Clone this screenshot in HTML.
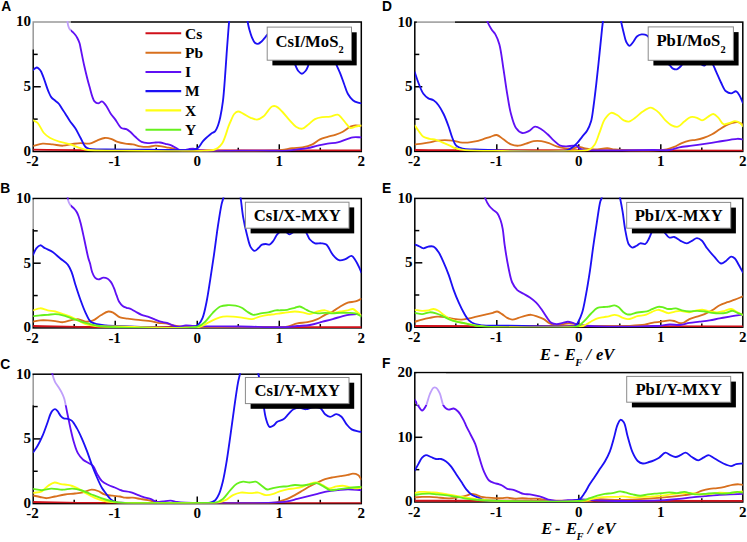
<!DOCTYPE html>
<html><head><meta charset="utf-8"><style>html,body{margin:0;padding:0;background:#fff;}svg{display:block;}.s{font-family:"Liberation Serif",serif;font-weight:bold;}.l{font-family:"Liberation Sans",sans-serif;font-weight:bold;}</style></head><body>
<svg width="747" height="542" viewBox="0 0 747 542">
<rect width="747" height="542" fill="#fff"/>
<defs>
<clipPath id="cA"><rect x="33.2" y="21" width="328.1" height="130.5"/></clipPath>
<clipPath id="cB"><rect x="33.2" y="197.5" width="328.1" height="130.4"/></clipPath>
<clipPath id="cC"><rect x="33.2" y="373.2" width="328.1" height="130.4"/></clipPath>
<clipPath id="cD"><rect x="414.8" y="21.1" width="328" height="130.3"/></clipPath>
<clipPath id="cE"><rect x="414.8" y="197.4" width="328" height="129.8"/></clipPath>
<clipPath id="cF"><rect x="414.8" y="371.6" width="328" height="130.4"/></clipPath>
</defs>
<text class="l" x="1.3" y="10.9" font-size="13.8">A</text>
<text class="l" x="0.2" y="193.4" font-size="13.8">B</text>
<text class="l" x="0.2" y="368.9" font-size="13.8">C</text>
<text class="l" x="382" y="10.9" font-size="13.8">D</text>
<text class="l" x="382" y="192.9" font-size="13.8">E</text>
<text class="l" x="382" y="368.1" font-size="13.8">F</text>
<rect x="33.2" y="22" width="328.1" height="129.5" fill="none" stroke="#000" stroke-width="1.5"/>
<line x1="33.2" y1="119.12" x2="37.7" y2="119.12" stroke="#000" stroke-width="1.5"/>
<line x1="33.2" y1="86.75" x2="40.7" y2="86.75" stroke="#000" stroke-width="1.5"/>
<line x1="33.2" y1="54.38" x2="37.7" y2="54.38" stroke="#000" stroke-width="1.5"/>
<line x1="74.21" y1="151.5" x2="74.21" y2="147.7" stroke="#000" stroke-width="1.5"/>
<line x1="115.23" y1="151.5" x2="115.23" y2="144.3" stroke="#000" stroke-width="1.5"/>
<line x1="156.24" y1="151.5" x2="156.24" y2="147.7" stroke="#000" stroke-width="1.5"/>
<line x1="197.25" y1="151.5" x2="197.25" y2="144.3" stroke="#000" stroke-width="1.5"/>
<line x1="238.26" y1="151.5" x2="238.26" y2="147.7" stroke="#000" stroke-width="1.5"/>
<line x1="279.28" y1="151.5" x2="279.28" y2="144.3" stroke="#000" stroke-width="1.5"/>
<line x1="320.29" y1="151.5" x2="320.29" y2="147.7" stroke="#000" stroke-width="1.5"/>
<text class="s" x="30.9" y="155.9" font-size="15" text-anchor="end">0</text>
<text class="s" x="30.9" y="91.15" font-size="15" text-anchor="end">5</text>
<text class="s" x="30.9" y="26.4" font-size="15" text-anchor="end">10</text>
<text class="s" x="32.6" y="166.3" font-size="15" text-anchor="middle">-2</text>
<text class="s" x="114.63" y="166.3" font-size="15" text-anchor="middle">-1</text>
<text class="s" x="197.25" y="166.3" font-size="15" text-anchor="middle">0</text>
<text class="s" x="279.28" y="166.3" font-size="15" text-anchor="middle">1</text>
<text class="s" x="361.3" y="166.3" font-size="15" text-anchor="middle">2</text>
<g clip-path="url(#cA)" fill="none" stroke-width="1.85" stroke-linejoin="round" stroke-linecap="round">
<path d="M33.2 149.6C48.8 149.8 57.84 150.05 80 150.2C134.33 150.57 267.53 150.33 361.3 150.4" stroke="#d0101a"/>
<path d="M33.2 145.9C36.33 145.13 39.39 143.86 42.6 143.6C45.89 143.34 49.33 144.05 52.7 144.4C56.1 144.75 59.51 145.78 62.9 145.7C66.28 145.62 69.86 144.34 73 143.9C75.71 143.52 77.97 143.16 80.6 143.1C83.42 143.03 86.62 144.05 89.4 143.6C92.08 143.17 94.46 141.54 97 140.6C99.52 139.67 102.16 138.25 104.6 138C106.77 137.78 108.81 138.2 110.9 138.8C113.15 139.45 115.25 141.1 117.6 141.9C120.01 142.72 122.65 143.18 125.2 143.6C127.72 144.01 130.29 143.94 132.8 144.4C135.33 144.87 137.77 145.98 140.3 146.4C142.81 146.81 145.37 147.01 147.9 146.9C150.44 146.78 153.29 145.75 155.5 145.7C157.19 145.66 158.37 145.97 160 146.2C161.95 146.48 164.27 146.93 166.4 147.3C168.53 147.67 170.77 147.93 172.8 148.4C174.69 148.84 176.21 149.63 178.2 150C180.54 150.43 182 150.44 186 150.6C199.27 151.12 257.37 151.2 272 150.7C277.02 150.53 278.74 150.41 282.1 150C285.48 149.58 288.82 148.63 292.2 148.2C295.56 147.77 298.97 148.02 302.3 147.4C305.7 146.77 309.37 145.83 312.4 144.4C315.22 143.07 317.38 140.58 320 139.3C322.45 138.1 325.06 137.55 327.6 136.8C330.12 136.05 332.69 135.62 335.2 134.8C337.76 133.96 340.33 133.09 342.8 131.8C345.41 130.43 348.05 127.76 350.4 126.7C352.17 125.9 353.65 125.53 355.4 125.4C357.27 125.26 359.33 125.8 361.3 126" stroke="#d8701e"/>
<path d="M66.8 14C67.07 16.83 67.28 20.29 67.6 22.5C67.81 23.93 67.95 24.9 68.3 26C68.63 27.06 68.95 28.06 69.6 29C70.35 30.08 71.72 30.98 72.7 32C73.65 32.98 74.62 33.97 75.4 35C76.14 35.97 76.69 36.85 77.3 38C78.06 39.43 78.92 41.23 79.5 43C80.11 44.88 80.27 46.49 80.8 49C81.69 53.22 82.95 60.1 84.3 66C85.78 72.48 87.57 80.07 89.4 86.3C91 91.74 92.34 98.83 94.5 101.4C95.61 102.72 96.96 103.39 98.2 103.4C99.46 103.41 100.8 101.22 102 101.4C103.35 101.6 104.55 103.57 105.8 105.2C107.52 107.44 109.2 111.52 110.9 114C112.27 115.99 113.51 117.14 115 119.1C116.93 121.63 119.09 126.45 121.4 128C122.98 129.06 124.9 128.53 126.4 129.2C127.82 129.83 128.89 130.72 130.2 131.8C131.83 133.14 133.47 135.17 135.3 136.8C137.25 138.54 139.36 140.86 141.6 141.9C143.59 142.82 145.79 142.98 147.9 143.1C149.99 143.21 152.14 142.7 154.2 142.6C156.17 142.5 158.11 142.29 160 142.5C161.85 142.7 163.61 143.35 165.4 143.8C167.18 144.25 169.05 144.59 170.7 145.2C172.24 145.77 173.58 146.54 175 147.3C176.45 148.07 177.81 149.32 179.3 149.8C180.69 150.24 182.1 150.28 183.6 150.2C185.28 150.11 187.22 149.35 188.9 149.1C190.4 148.88 191.82 148.64 193.2 148.7C194.48 148.76 195.67 149.11 196.9 149.4C198.17 149.7 199.2 150.23 200.7 150.5C202.76 150.88 204.83 150.99 208.2 151.1C215.13 151.32 229.38 150.67 240 150.6C250.65 150.53 263.3 150.69 272 150.7C278 150.71 282.66 150.99 287.2 150.7C290.92 150.46 293.93 149.82 297.3 149.4C300.67 148.98 304.05 148.81 307.4 148.2C310.79 147.58 314.13 146.47 317.5 145.7C320.86 144.94 324.22 144.15 327.6 143.6C330.95 143.05 334.38 143.18 337.7 142.4C341.11 141.6 344.99 139.71 347.8 138.8C349.78 138.16 350.97 137.58 352.9 137.3C355.33 136.95 358.5 137.3 361.3 137.3" stroke="#6010f4"/>
<path d="M33.2 70C33.8 69.47 34.35 68.82 35 68.4C35.62 68 36.28 67.4 37 67.5C38 67.64 39.36 69.06 40.3 70.3C41.48 71.85 42.22 74.23 43.1 76.4C44.07 78.8 44.89 81.53 45.8 84.1C46.72 86.69 47.59 89.56 48.6 91.9C49.47 93.92 50.21 95.88 51.4 97.4C52.49 98.79 54.05 99.74 55.3 100.8C56.44 101.76 57.58 102.37 58.6 103.5C59.81 104.84 60.8 106.83 61.9 108.5C63 110.17 64.03 111.67 65.2 113.5C66.6 115.67 68.05 118.29 69.7 120.7C71.46 123.28 73.72 125.7 75.5 128.5C77.37 131.45 78.9 134.88 80.6 138C82.26 141.05 83.75 145.2 85.6 147C86.79 148.17 87.62 148.54 89.4 149C92.89 149.91 99.8 149.3 105.8 149.4C113.08 149.52 121.5 149.54 130 149.6C139.46 149.67 150.09 149.7 160 149.8C169.72 149.9 182.74 150.54 188.9 150.2C191.81 150.04 193.59 150.03 195.3 149.4C196.62 148.92 197.45 148.3 198.5 147.3C199.96 145.91 201.29 143.16 202.8 141.4C204.17 139.79 205.64 138.45 207.1 137.1C208.51 135.79 210.02 134.32 211.4 133.4C212.5 132.67 213.72 132.58 214.6 131.8C215.51 131 216.09 129.78 216.7 128.6C217.37 127.3 217.86 125.94 218.4 124.3C219.08 122.2 219.68 119.91 220.3 117C221.2 112.79 222.18 107.02 222.9 101.4C223.74 94.84 224.21 87.48 224.8 80C225.45 71.78 225.99 62.58 226.6 54.1C227.19 45.92 227.85 36.65 228.4 30C228.79 25.31 228.99 22.4 229.5 18C230.12 12.6 230.67 6.11 232 0C233.43 -6.55 236 -20 238 -20C240 -20 242.4 -6.89 244 0C245.66 7.16 246.61 16.7 247.7 22.2C248.35 25.48 248.79 27.46 249.5 30C250.2 32.49 250.93 35.09 251.9 37.3C252.77 39.28 253.66 41.62 254.9 42.7C255.81 43.49 256.96 44.01 258 43.9C259.19 43.77 260.47 42.51 261.6 41.5C262.88 40.36 264.08 38.62 265.2 37.3C266.19 36.14 266.69 35.03 268 34C269.89 32.52 273.43 29.51 276 30C279.15 30.6 282.48 35.9 285 40C288.02 44.91 290.03 53.42 292 58C293.25 60.9 294.21 62.76 295.3 65C296.31 67.08 297.04 69.5 298.3 71C299.33 72.23 300.7 73.7 301.9 73.7C303.1 73.7 304.51 72.17 305.5 71C306.59 69.72 307.13 68.32 308 66.2C309.54 62.44 310.31 54.19 313 50C315.27 46.47 319 42 322 42C325 42 328.65 46.57 331 50C333.69 53.93 334.78 60.52 336.5 64.8C337.84 68.13 339.08 70.55 340.3 73.6C341.59 76.83 342.75 80.34 344 83.7C345.25 87.07 346.17 90.92 347.8 93.8C349.22 96.31 351.01 98.68 352.9 100.2C354.47 101.46 356.45 102.17 358 102.7C359.19 103.11 360.2 103.17 361.3 103.4" stroke="#1c10f4"/>
<path d="M33.2 120.4C34.67 121.23 36.17 121.53 37.6 122.9C39.79 125 41.55 130.37 43.9 133C45.83 135.16 47.73 136.59 50.2 138C53.07 139.64 56.9 140.83 60.3 141.9C63.63 142.95 67.05 143.37 70.4 144.4C73.82 145.46 77.43 147.23 80.6 148.2C83.27 149.01 84.7 149.57 88.1 150C95.01 150.88 106.94 150.44 120 150.6C140.77 150.85 185.38 151.56 200.7 151C206.81 150.78 210.42 150.81 213.5 150C215.37 149.51 216.45 148.96 217.8 148C219.34 146.91 220.9 145.39 222.1 143.6C223.48 141.53 224.29 138.78 225.3 136.1C226.43 133.1 227.42 129.28 228.5 126.4C229.39 124.03 230.24 122.08 231.2 120C232.14 117.95 232.9 115.46 234.2 114C235.27 112.8 236.6 111.63 238 111.5C239.54 111.35 241.26 112.72 243.1 113.6C245.41 114.71 248.23 116.78 250.7 117.8C252.85 118.69 254.93 119.77 257 119.6C259.13 119.42 261.45 118.06 263.3 116.6C265.29 115.03 266.81 112.11 268.4 110.3C269.67 108.85 270.63 107.13 272 106.5C273.2 105.95 274.62 105.83 276 106.3C277.95 106.96 280.04 109.44 282.1 111.5C284.59 113.99 287.23 117.73 289.7 120.4C291.85 122.73 293.72 125.31 296 126.7C297.97 127.9 300.27 129.01 302.3 128.7C304.51 128.36 306.6 125.78 308.7 124.2C310.84 122.59 312.66 120.28 315 119.1C317.3 117.93 320.06 117.52 322.6 117.1C325.09 116.69 327.61 117.01 330.1 116.6C332.64 116.18 335.69 114.15 337.7 114.6C339.3 114.96 340.21 116.47 341.5 117.8C343.16 119.5 344.98 122.38 346.6 124.2C347.92 125.67 348.91 127.6 350.4 128C351.86 128.4 353.66 127.12 355.4 126.7C357.28 126.25 359.33 125.83 361.3 125.4" stroke="#ffff14"/>
</g>
<rect x="31.8" y="20.5" width="39.1" height="29" fill="#fff" fill-opacity="0.6"/>
<rect x="272.4" y="32.3" width="84.3" height="33.1" fill="#000"/>
<rect x="267.2" y="27.1" width="84.3" height="33.1" fill="#fff" stroke="#8a8a8a" stroke-width="1"/>
<text class="s" x="309.55" y="46.6" font-size="16.7" text-anchor="middle">CsI/MoS<tspan font-size="10.35" dy="6.2">2</tspan></text>
<rect x="33.2" y="198.5" width="328.1" height="129.4" fill="none" stroke="#000" stroke-width="1.5"/>
<line x1="33.2" y1="295.55" x2="37.7" y2="295.55" stroke="#000" stroke-width="1.5"/>
<line x1="33.2" y1="263.2" x2="40.7" y2="263.2" stroke="#000" stroke-width="1.5"/>
<line x1="33.2" y1="230.85" x2="37.7" y2="230.85" stroke="#000" stroke-width="1.5"/>
<line x1="74.21" y1="327.9" x2="74.21" y2="324.1" stroke="#000" stroke-width="1.5"/>
<line x1="115.23" y1="327.9" x2="115.23" y2="320.7" stroke="#000" stroke-width="1.5"/>
<line x1="156.24" y1="327.9" x2="156.24" y2="324.1" stroke="#000" stroke-width="1.5"/>
<line x1="197.25" y1="327.9" x2="197.25" y2="320.7" stroke="#000" stroke-width="1.5"/>
<line x1="238.26" y1="327.9" x2="238.26" y2="324.1" stroke="#000" stroke-width="1.5"/>
<line x1="279.28" y1="327.9" x2="279.28" y2="320.7" stroke="#000" stroke-width="1.5"/>
<line x1="320.29" y1="327.9" x2="320.29" y2="324.1" stroke="#000" stroke-width="1.5"/>
<text class="s" x="30.9" y="332.3" font-size="15" text-anchor="end">0</text>
<text class="s" x="30.9" y="267.6" font-size="15" text-anchor="end">5</text>
<text class="s" x="30.9" y="202.9" font-size="15" text-anchor="end">10</text>
<text class="s" x="32.6" y="342.7" font-size="15" text-anchor="middle">-2</text>
<text class="s" x="114.63" y="342.7" font-size="15" text-anchor="middle">-1</text>
<text class="s" x="197.25" y="342.7" font-size="15" text-anchor="middle">0</text>
<text class="s" x="279.28" y="342.7" font-size="15" text-anchor="middle">1</text>
<text class="s" x="361.3" y="342.7" font-size="15" text-anchor="middle">2</text>
<g clip-path="url(#cB)" fill="none" stroke-width="1.85" stroke-linejoin="round" stroke-linecap="round">
<path d="M33.2 326C55.47 326.33 70.42 326.77 100 327C158.5 327.46 274.2 327.13 361.3 327.2" stroke="#d0101a"/>
<path d="M33.2 321.7C35.5 321.27 37.73 320.62 40.1 320.4C42.56 320.17 45.17 320.28 47.7 320.4C50.24 320.52 52.77 320.8 55.3 321.1C57.84 321.4 60.39 322.32 62.9 322.2C65.42 322.08 67.88 320.92 70.4 320.4C72.92 319.88 75.49 318.9 78 319.1C80.56 319.31 83.04 321.49 85.6 321.7C88.11 321.9 90.77 321.37 93.2 320.4C95.85 319.34 98.22 316.8 100.8 315.3C103.29 313.85 106.09 311.74 108.4 311.5C110.2 311.31 111.68 312.02 113.4 312.8C115.55 313.78 117.68 316.44 120.1 317.4C122.46 318.34 125.16 318.23 127.7 318.6C130.23 318.97 132.76 319.3 135.3 319.6C137.83 319.9 140.37 320.15 142.9 320.4C145.41 320.65 147.91 320.69 150.4 321.1C152.94 321.52 155.45 322.52 158 322.9C160.52 323.28 163.09 322.99 165.6 323.4C168.15 323.82 170.47 324.87 173.2 325.4C176.31 326.01 178.2 326.36 183.3 326.7C199.03 327.73 266.18 327.27 280 327C283.77 326.93 284.63 327.16 287.2 326.7C290.32 326.14 293.9 324.15 297.3 323.4C300.63 322.67 304.06 322.9 307.4 322.2C310.8 321.48 314.44 320.42 317.5 319.1C320.28 317.9 322.53 316.08 325.1 314.8C327.6 313.55 330.22 312.84 332.7 311.5C335.3 310.1 337.73 307.99 340.3 306.5C342.77 305.07 345.23 303.55 347.8 302.7C350.27 301.89 353.06 302.08 355.4 301.4C357.53 300.78 359.33 299.73 361.3 298.9" stroke="#d8701e"/>
<path d="M67.2 191C67.4 193.5 67.46 196.48 67.8 198.5C68.03 199.9 68.27 200.9 68.7 202C69.11 203.06 69.66 204.14 70.3 205C70.88 205.78 71.61 206.34 72.3 207C73.01 207.68 73.8 208.23 74.5 209C75.28 209.87 76.05 210.89 76.7 212C77.4 213.2 77.93 214.45 78.5 216C79.24 218.01 79.85 220.23 80.6 223.1C81.73 227.42 83.06 233.87 84.3 239.5C85.62 245.48 87.15 253.72 88.3 258C88.92 260.32 89.43 261.29 90 263.3C90.73 265.87 91.24 269.64 92.2 272.2C92.98 274.3 93.79 276.49 95 277.7C95.94 278.64 97.06 279.31 98.3 279.4C99.77 279.51 101.68 277.77 103.3 277.7C104.8 277.64 106.42 278.08 107.7 278.8C109 279.53 110.04 280.76 111 282.1C112.12 283.65 112.92 285.66 113.8 287.7C114.81 290.04 115.65 292.93 116.6 295.4C117.49 297.72 118.16 300.24 119.3 302.1C120.26 303.67 121.42 305.03 122.7 306C123.85 306.87 125.24 307.34 126.5 307.8C127.67 308.22 128.74 308.21 130 308.7C131.62 309.33 133.46 310.53 135.3 311.5C137.31 312.56 139.46 313.94 141.6 314.8C143.66 315.62 145.82 315.89 147.9 316.6C150.02 317.32 152.09 318.25 154.2 319.1C156.33 319.95 158.44 321.06 160.6 321.7C162.68 322.31 164.83 322.3 166.9 322.9C169.03 323.52 171.19 324.75 173.2 325.4C174.97 325.97 176.43 326.63 178.3 326.7C180.55 326.79 183.28 325.52 185.8 325.4C188.32 325.28 190.95 325.85 193.4 326C195.68 326.14 196.87 326.22 200 326.3C207.7 326.49 226.3 326.36 240 326.5C254.46 326.65 274.26 327.61 284.6 327.2C290.13 326.98 293.07 326.37 297.3 326C301.51 325.63 305.72 325.7 309.9 325C314.16 324.28 318.61 322.73 322.6 321.7C326.16 320.78 329.34 320.03 332.7 319.1C336.08 318.16 339.66 316.88 342.8 316.1C345.5 315.43 347.86 314.93 350.4 314.6C352.92 314.27 356 313.96 358 314.1C359.33 314.2 360.2 314.57 361.3 314.8" stroke="#6010f4"/>
<path d="M33.2 254.7C34.23 252.57 34.99 249.93 36.3 248.3C37.38 246.96 38.7 245.4 40.1 245.3C41.64 245.19 43.32 247.27 45.2 248.3C47.44 249.53 50.28 250.5 52.7 252.1C55.33 253.84 57.76 256.38 60.3 258.5C62.83 260.61 65.97 262.37 67.9 264.8C69.69 267.05 70.54 269.49 71.7 272.4C73.14 276.02 74.1 280.61 75.5 285C77.04 289.84 78.84 295.39 80.6 300.2C82.22 304.62 83.78 309.02 85.6 312.8C87.18 316.09 88.51 319.8 90.7 321.7C92.48 323.24 94.68 323.59 97 324.2C99.65 324.9 102.51 325.11 105.8 325.4C109.96 325.77 113.4 325.83 120 326C135.17 326.39 186.13 329.4 195.1 326.7C197.29 326.04 197.67 325.38 198.8 324.2C200.24 322.68 201.5 320.56 202.6 317.9C204.21 314.02 205.23 308.3 206.4 302.7C207.82 295.89 208.96 287.7 210.2 279.9C211.5 271.72 212.76 263.31 214 254.7C215.3 245.67 216.47 235.7 217.8 226.9C219.01 218.91 220.42 209.31 221.6 204.1C222.23 201.32 222.79 200.28 223.4 197.8C224.26 194.3 224.49 188.89 226 185C227.43 181.33 230 175 232 175C234 175 236.57 181.33 238 185C239.51 188.89 239.81 193.1 240.6 197.8C241.55 203.5 242.03 210.61 243.1 216.8C244.14 222.8 245.52 229.04 246.9 234.4C248.08 239 248.99 244.24 250.7 247.1C251.79 248.92 253.18 250.78 254.5 250.9C255.72 251.01 257.09 249.31 258.3 248.3C259.59 247.23 260.64 245.29 262 244.6C263.17 244 264.53 244 265.8 244C267.07 244 268.42 244.98 269.6 244.6C270.99 244.15 272.22 242.32 273.4 240.8C274.79 239.01 275.65 236.13 277.2 234.4C278.6 232.83 280.5 230.98 282.1 230.7C283.39 230.48 284.67 231.32 285.9 231.9C287.21 232.52 288.43 234.4 289.7 234.4C290.97 234.4 292.03 232.67 293.5 231.9C295.3 230.97 297.79 229.53 299.8 229.4C301.57 229.29 303.41 229.56 304.9 230.7C306.97 232.28 307.97 237.31 309.9 239.5C311.43 241.23 313.09 242.67 315 243.3C316.9 243.93 319.34 243.05 321.3 243.3C323.08 243.53 324.74 243.46 326.3 244.6C328.68 246.33 330.36 251.97 332.7 254.7C334.66 256.98 336.74 259.55 339 260.2C340.98 260.77 343.25 259.88 345.3 259.2C347.46 258.48 349.86 255.58 351.6 255.9C353.16 256.19 354.22 258.51 355.4 260.2C356.79 262.2 358.16 265.1 359.2 267.3C360.06 269.12 360.6 270.7 361.3 272.4" stroke="#1c10f4"/>
<path d="M33.2 310.3C35.5 309.63 37.74 308.33 40.1 308.3C42.57 308.27 45.15 309.77 47.7 310.3C50.22 310.83 52.79 310.88 55.3 311.5C57.86 312.14 60.37 313.25 62.9 314.1C65.41 314.95 67.93 315.58 70.4 316.6C72.96 317.66 75.47 319.13 78 320.4C80.53 321.67 82.81 323.28 85.6 324.2C88.66 325.21 91.59 325.59 95.7 326C102.03 326.63 109.55 326.38 120 326.5C138.97 326.72 187.67 329.62 200.1 326.7C204.15 325.75 205.17 324.17 207.7 322.9C210.23 321.63 212.73 320.16 215.3 319.1C217.8 318.07 220.15 317.04 222.9 316.6C225.99 316.1 229.64 316.38 233 316.6C236.37 316.82 239.85 317.47 243.1 317.9C246.14 318.3 249.1 319.36 251.9 319.1C254.56 318.86 256.84 317.3 259.5 316.6C262.33 315.85 265.77 315.18 268.4 314.8C270.47 314.5 272.14 314.52 274 314.3C275.87 314.08 277.59 313.8 279.6 313.5C281.94 313.15 284.66 312.63 287.2 312.3C289.73 311.97 292.28 311.5 294.8 311.5C297.31 311.5 299.81 311.87 302.3 312.3C304.84 312.73 307.38 314.22 309.9 314.1C312.45 313.98 314.94 312.14 317.5 311.5C320.01 310.88 322.59 310.1 325.1 310.3C327.66 310.51 330.14 312.61 332.7 312.8C335.21 312.99 337.77 311.92 340.3 311.5C342.81 311.09 345.55 310.77 347.8 310.3C349.67 309.91 351.27 308.68 352.9 309C354.69 309.35 356.49 311.66 358 312.8C359.22 313.72 360.2 314.47 361.3 315.3" stroke="#ffff14"/>
<path d="M33.2 316.1C35.5 315.83 37.74 315.51 40.1 315.3C42.57 315.08 45.17 315 47.7 314.8C50.23 314.6 52.77 314.02 55.3 314.1C57.84 314.18 60.4 314.68 62.9 315.3C65.44 315.93 67.89 317.05 70.4 317.9C72.92 318.75 75.47 319.57 78 320.4C80.53 321.23 82.87 322.11 85.6 322.9C88.71 323.8 92.32 324.77 95.7 325.4C99.05 326.03 100.73 326.37 105.8 326.7C121.03 327.68 184.15 330.73 197.6 326.7C201.83 325.43 202.81 323.81 205.2 321.7C207.91 319.31 210.16 315.42 212.8 312.8C215.21 310.41 217.61 307.75 220.3 306.5C222.69 305.39 225.36 305.33 227.9 305.2C230.43 305.07 233.11 305.23 235.5 305.7C237.73 306.14 239.88 306.81 241.8 307.8C243.67 308.76 245.07 310.36 246.9 311.5C248.85 312.71 250.94 314.47 253.2 314.8C255.56 315.14 258.26 313.72 260.8 313.3C263.33 312.88 265.89 312.8 268.4 312.3C270.92 311.8 273.82 310.57 275.9 310.3C277.33 310.11 278.15 310.35 279.6 310.3C281.68 310.23 284.69 310.21 287.2 309.8C289.75 309.38 292.53 308.39 294.8 307.8C296.64 307.32 298.16 306.33 299.8 306.5C301.52 306.67 303.21 308.16 304.9 309C306.58 309.83 308.01 310.82 309.9 311.5C312.13 312.31 314.95 313.09 317.5 313.3C320.02 313.51 322.57 312.8 325.1 312.8C327.63 312.8 330.17 313.3 332.7 313.3C335.23 313.3 337.77 312.88 340.3 312.8C342.81 312.72 345.29 312.72 347.8 312.8C350.33 312.88 353.09 312.63 355.4 313.3C357.57 313.93 359.33 315.43 361.3 316.5" stroke="#66f01c"/>
</g>
<rect x="31.8" y="199.4" width="39.1" height="29.6" fill="#fff" fill-opacity="0.6"/>
<rect x="250.6" y="207.4" width="103.6" height="26" fill="#000"/>
<rect x="245.4" y="202.2" width="103.6" height="26" fill="#fff" stroke="#8a8a8a" stroke-width="1"/>
<text class="s" x="297.2" y="220.7" font-size="16.7" text-anchor="middle">CsI/X-MXY</text>
<rect x="33.2" y="374.2" width="328.1" height="129.4" fill="none" stroke="#000" stroke-width="1.5"/>
<line x1="33.2" y1="471.25" x2="37.7" y2="471.25" stroke="#000" stroke-width="1.5"/>
<line x1="33.2" y1="438.9" x2="40.7" y2="438.9" stroke="#000" stroke-width="1.5"/>
<line x1="33.2" y1="406.55" x2="37.7" y2="406.55" stroke="#000" stroke-width="1.5"/>
<line x1="74.21" y1="503.6" x2="74.21" y2="499.8" stroke="#000" stroke-width="1.5"/>
<line x1="115.23" y1="503.6" x2="115.23" y2="496.4" stroke="#000" stroke-width="1.5"/>
<line x1="156.24" y1="503.6" x2="156.24" y2="499.8" stroke="#000" stroke-width="1.5"/>
<line x1="197.25" y1="503.6" x2="197.25" y2="496.4" stroke="#000" stroke-width="1.5"/>
<line x1="238.26" y1="503.6" x2="238.26" y2="499.8" stroke="#000" stroke-width="1.5"/>
<line x1="279.28" y1="503.6" x2="279.28" y2="496.4" stroke="#000" stroke-width="1.5"/>
<line x1="320.29" y1="503.6" x2="320.29" y2="499.8" stroke="#000" stroke-width="1.5"/>
<text class="s" x="30.9" y="508" font-size="15" text-anchor="end">0</text>
<text class="s" x="30.9" y="443.3" font-size="15" text-anchor="end">5</text>
<text class="s" x="30.9" y="378.6" font-size="15" text-anchor="end">10</text>
<text class="s" x="32.6" y="518.4" font-size="15" text-anchor="middle">-2</text>
<text class="s" x="114.63" y="518.4" font-size="15" text-anchor="middle">-1</text>
<text class="s" x="197.25" y="518.4" font-size="15" text-anchor="middle">0</text>
<text class="s" x="279.28" y="518.4" font-size="15" text-anchor="middle">1</text>
<text class="s" x="361.3" y="518.4" font-size="15" text-anchor="middle">2</text>
<g clip-path="url(#cC)" fill="none" stroke-width="1.85" stroke-linejoin="round" stroke-linecap="round">
<path d="M33.2 502C55.47 502.33 70.42 502.77 100 503C158.5 503.46 274.2 503.13 361.3 503.2" stroke="#d0101a"/>
<path d="M33.2 495.5C35.47 496 37.75 496.55 40 497C42.21 497.44 44.27 498.22 46.6 498.2C49.23 498.17 52.08 497.09 55 496.5C58.19 495.86 61.65 495 65 494.5C68.32 494 71.86 493.89 75 493.5C77.82 493.15 80.31 492.91 83 492.3C85.84 491.66 88.93 489.82 91.6 489.7C93.88 489.59 95.92 490.27 98 491C100.19 491.77 102.08 493.52 104.4 494.3C106.86 495.13 109.76 495.33 112.4 495.7C114.96 496.06 117.72 496.12 120 496.5C121.91 496.82 123.29 497.48 125.2 497.7C127.48 497.96 130.28 497.5 132.8 497.7C135.32 497.9 137.79 498.49 140.3 498.9C142.83 499.32 145.37 499.69 147.9 500.2C150.44 500.72 152.81 501.6 155.5 502C158.47 502.44 160.1 502.45 165 502.6C181.65 503.13 262.58 504.19 275 502.6C277.58 502.27 277.88 501.91 279.6 501.4C281.83 500.74 284.7 499.93 287.2 498.9C289.77 497.84 292.29 496.44 294.8 495.1C297.33 493.74 299.8 492.26 302.3 490.8C304.83 489.33 307.34 487.69 309.9 486.3C312.41 484.93 314.95 483.69 317.5 482.5C320.02 481.33 322.53 480.06 325.1 479.2C327.6 478.37 330.16 477.9 332.7 477.4C335.22 476.9 337.78 476.62 340.3 476.2C342.81 475.78 345.55 475.38 347.8 474.9C349.67 474.5 351.2 473.6 352.9 473.6C354.6 473.6 356.61 473.98 358 474.9C359.41 475.83 360.2 477.77 361.3 479.2" stroke="#d8701e"/>
<path d="M51.2 367C51.63 369.53 51.86 372.13 52.5 374.6C53.13 377.06 53.93 379.62 55 381.8C55.99 383.82 57.47 385.49 58.6 387.3C59.67 389.02 60.69 390.59 61.6 392.4C62.57 394.31 63.52 396.39 64.2 398.5C64.89 400.63 65.22 402.82 65.7 405.1C66.22 407.54 66.72 410.34 67.2 412.7C67.62 414.76 67.95 416.32 68.4 418.5C68.98 421.3 69.59 424.54 70.4 428.1C71.43 432.6 72.79 438.79 74.2 443.3C75.37 447.05 76.36 450.54 78 453.4C79.42 455.88 81.14 457.99 83.1 459.7C84.97 461.32 87.58 462.33 89.4 463.5C90.84 464.43 92.07 464.82 93.2 466.1C94.72 467.84 95.57 471.13 97 473.6C98.49 476.17 99.97 479.26 102 481.2C103.84 482.95 106.23 483.93 108.4 485C110.47 486.02 112.7 486.67 114.7 487.5C116.55 488.27 118.54 489.2 120 489.8C121.01 490.21 121.49 490.49 122.6 490.8C124.45 491.31 127.81 491.47 130.2 492.1C132.43 492.69 134.4 493.61 136.5 494.4C138.63 495.2 140.66 496.17 142.9 496.9C145.28 497.68 148.04 498.02 150.4 498.9C152.66 499.74 154.62 501.61 156.8 502C158.86 502.37 160.9 501.61 163.1 501.4C165.51 501.17 168.29 500.57 170.7 500.7C172.91 500.82 174.71 501.67 177 502C179.68 502.38 181.35 502.52 185.8 502.7C199.71 503.25 255.01 503.43 272 502.7C279.15 502.39 282.68 502.15 287.2 501.4C290.94 500.78 293.93 499.73 297.3 498.9C300.67 498.07 304.03 497.23 307.4 496.4C310.77 495.57 314.14 494.75 317.5 493.9C320.87 493.05 324.21 491.93 327.6 491.3C330.95 490.67 334.33 490.43 337.7 490.1C341.06 489.77 344.19 489.34 347.8 489.3C351.97 489.26 356.8 489.83 361.3 490.1" stroke="#6010f4"/>
<path d="M33.2 452.2C34.67 450.07 36.17 448.23 37.6 445.8C39.32 442.87 41.01 439.37 42.6 435.7C44.41 431.52 46.27 425.96 47.7 422C48.79 418.98 49.53 416.05 50.5 414C51.15 412.62 51.68 411.52 52.5 410.7C53.22 409.99 54.17 409.15 55 409.2C55.88 409.25 56.77 410.31 57.6 411.2C58.67 412.36 59.48 414.57 60.6 415.8C61.55 416.85 62.51 417.8 63.7 418.3C64.93 418.82 66.56 418.42 67.9 418.8C69.23 419.18 70.48 419.55 71.7 420.6C73.5 422.14 75.2 425.35 76.8 428.1C78.59 431.18 80.19 434.69 81.8 438.3C83.56 442.25 85.25 446.56 86.9 450.9C88.63 455.45 90.17 460.46 91.9 465C93.54 469.31 95.25 473.54 97 477.5C98.62 481.18 100.29 485.12 102 488C103.31 490.2 104.58 491.65 106 493.5C107.5 495.45 109.04 497.93 110.8 499.4C112.31 500.66 113.73 501.51 115.7 502.1C118.24 502.86 120.33 502.63 125 502.8C139.1 503.32 199.14 505.27 210.2 502.7C213.06 502.04 213.87 501.51 215.3 500.2C216.92 498.71 217.97 496.45 219.1 493.9C220.62 490.48 221.74 485.96 222.9 481.2C224.34 475.28 225.51 468.12 226.7 461C228.03 453.05 229.18 444.33 230.4 435.7C231.68 426.65 232.9 416.94 234.2 407.9C235.44 399.26 236.82 388.84 238 382.6C238.7 378.89 239.27 377.06 240 373.8C240.91 369.72 241.25 363.82 243 360C244.47 356.78 247 352 249 352C251 352 253.49 356.79 255 360C256.8 363.83 257.29 369.42 258.3 373.8C259.21 377.78 260.04 380.97 260.8 385.2C261.74 390.44 262.43 397.24 263.3 402.9C264.1 408.14 264.54 413.69 265.8 418C266.8 421.43 267.91 426.15 269.6 426.9C270.69 427.39 272.21 426.34 273.4 425.6C274.77 424.74 275.66 422.82 277.2 421.8C278.92 420.66 281.56 420.53 283.4 419.3C285.31 418.03 286.72 415.88 288.4 414.2C290.08 412.52 291.54 410.25 293.5 409.2C295.36 408.21 297.7 407.9 299.8 407.9C301.9 407.9 304.01 409.28 306.1 409.2C308.21 409.12 310.18 407.64 312.4 407.4C314.79 407.14 317.9 406.81 320 407.9C322.16 409.02 323.24 412.68 325.1 414.2C326.65 415.47 328.31 416.72 330.1 416.8C332.08 416.89 334.52 414.11 336.5 414.2C338.29 414.28 339.98 415.45 341.5 416.8C343.43 418.52 344.81 422.11 346.6 424.3C348.19 426.24 349.66 428.21 351.6 429.4C353.48 430.55 356.2 430.99 358 431.4C359.27 431.69 360.2 431.73 361.3 431.9" stroke="#1c10f4"/>
<path d="M33.2 492.9C36.07 492.37 39.29 492.52 41.8 491.3C44.28 490.1 45.97 487.2 48.2 485.7C50.25 484.32 52.42 482.74 54.6 482.5C56.69 482.27 58.85 483.7 61 484.1C63.15 484.5 65.51 484.55 67.5 484.9C69.23 485.2 70.62 485.43 72.3 486C74.31 486.68 76.48 487.74 78.7 488.9C81.26 490.24 84 492.21 86.7 493.7C89.37 495.17 92.07 496.65 94.8 497.8C97.44 498.91 99.98 499.79 102.8 500.5C105.83 501.26 108.97 501.72 112.4 502.1C116.3 502.53 118.88 502.63 125 502.8C141.33 503.25 206 502.96 215 502.8C216.59 502.77 216.66 502.9 217.8 502.7C219.73 502.35 222.95 501.4 225.4 500.2C228.02 498.92 230.38 496.38 233 495.1C235.45 493.9 237.85 492.97 240.6 492.6C243.69 492.18 247.57 493.13 250.7 493.1C253.41 493.08 255.81 492.28 258.3 492.6C260.84 492.93 263.27 494.89 265.8 495.1C268.3 495.31 271.03 494.57 273.4 493.9C275.61 493.27 277.4 492.05 279.6 491.3C281.98 490.49 284.65 489.8 287.2 489.3C289.72 488.81 292.28 488.72 294.8 488.3C297.32 487.88 299.82 487.53 302.3 486.8C304.86 486.05 307.45 484.53 309.9 483.8C312.07 483.15 314.12 482.32 316.2 482.5C318.35 482.68 320.5 484.04 322.6 485C324.74 485.97 326.65 488.05 328.9 488.3C331.27 488.57 333.96 486.72 336.5 486.3C338.99 485.89 341.62 485.57 344 485.8C346.24 486.02 348.16 487.09 350.4 487.5C352.81 487.94 356 488.43 358 488.3C359.34 488.21 360.2 487.77 361.3 487.5" stroke="#ffff14"/>
<path d="M33.2 488.9C36.07 489.33 38.86 490.22 41.8 490.2C44.91 490.18 48.06 488.71 51.4 488.6C55.01 488.48 59.09 489.73 62.7 489.7C66.03 489.67 69.11 488.47 72.3 488.6C75.51 488.73 78.74 489.55 81.9 490.5C85.17 491.49 88.37 493.21 91.6 494.5C94.8 495.78 97.98 497.11 101.2 498.2C104.38 499.27 107.61 500.26 110.8 501C113.88 501.71 115.33 502.19 120 502.6C134.51 503.87 198.28 502.9 210 502.8C212.84 502.78 213.43 503.16 215.3 502.7C217.67 502.12 220.55 500.74 222.9 498.9C225.65 496.75 227.94 492.74 230.4 490.1C232.57 487.77 234.5 485.21 236.8 483.8C238.78 482.59 240.98 481.91 243.1 481.7C245.18 481.5 247.3 482.5 249.4 482.5C251.5 482.5 253.78 481.26 255.7 481.7C257.57 482.13 259.02 483.79 260.8 485C262.8 486.36 265.04 489.1 267.1 489.5C268.76 489.82 270.18 488.7 272 488.3C274.25 487.8 277.06 487.13 279.6 486.8C282.12 486.47 284.67 486.6 287.2 486.3C289.74 486 292.27 485.13 294.8 485C297.3 484.87 299.8 485.61 302.3 485.5C304.83 485.39 307.49 484.7 309.9 484.3C312.1 483.93 314.12 482.98 316.2 483.2C318.36 483.43 320.42 484.74 322.6 485.8C325.04 486.99 327.5 489.55 330.1 490.1C332.54 490.62 335.17 489.6 337.7 489.3C340.24 489 342.76 488.6 345.3 488.3C347.83 488 350.3 487.74 352.9 487.5C355.63 487.24 358.5 487.03 361.3 486.8" stroke="#66f01c"/>
</g>
<rect x="31.8" y="375.1" width="39.1" height="30.2" fill="#fff" fill-opacity="0.6"/>
<rect x="250.6" y="382.7" width="103.6" height="26.1" fill="#000"/>
<rect x="245.4" y="377.5" width="103.6" height="26.1" fill="#fff" stroke="#8a8a8a" stroke-width="1"/>
<text class="s" x="297.2" y="396" font-size="16.7" text-anchor="middle">CsI/Y-MXY</text>
<rect x="414.8" y="22.1" width="328" height="129.3" fill="none" stroke="#000" stroke-width="1.5"/>
<line x1="414.8" y1="119.08" x2="419.3" y2="119.08" stroke="#000" stroke-width="1.5"/>
<line x1="414.8" y1="86.75" x2="422.3" y2="86.75" stroke="#000" stroke-width="1.5"/>
<line x1="414.8" y1="54.42" x2="419.3" y2="54.42" stroke="#000" stroke-width="1.5"/>
<line x1="455.8" y1="151.4" x2="455.8" y2="147.6" stroke="#000" stroke-width="1.5"/>
<line x1="496.8" y1="151.4" x2="496.8" y2="144.2" stroke="#000" stroke-width="1.5"/>
<line x1="537.8" y1="151.4" x2="537.8" y2="147.6" stroke="#000" stroke-width="1.5"/>
<line x1="578.8" y1="151.4" x2="578.8" y2="144.2" stroke="#000" stroke-width="1.5"/>
<line x1="619.8" y1="151.4" x2="619.8" y2="147.6" stroke="#000" stroke-width="1.5"/>
<line x1="660.8" y1="151.4" x2="660.8" y2="144.2" stroke="#000" stroke-width="1.5"/>
<line x1="701.8" y1="151.4" x2="701.8" y2="147.6" stroke="#000" stroke-width="1.5"/>
<text class="s" x="412.5" y="155.8" font-size="15" text-anchor="end">0</text>
<text class="s" x="412.5" y="91.15" font-size="15" text-anchor="end">5</text>
<text class="s" x="412.5" y="26.5" font-size="15" text-anchor="end">10</text>
<text class="s" x="414.2" y="166.2" font-size="15" text-anchor="middle">-2</text>
<text class="s" x="496.2" y="166.2" font-size="15" text-anchor="middle">-1</text>
<text class="s" x="578.8" y="166.2" font-size="15" text-anchor="middle">0</text>
<text class="s" x="660.8" y="166.2" font-size="15" text-anchor="middle">1</text>
<text class="s" x="742.8" y="166.2" font-size="15" text-anchor="middle">2</text>
<g clip-path="url(#cD)" fill="none" stroke-width="1.85" stroke-linejoin="round" stroke-linecap="round">
<path d="M414.8 150C429.87 150.07 438.47 150.14 460 150.2C513.85 150.36 648.53 150.47 742.8 150.6" stroke="#d0101a"/>
<path d="M414.8 144.4C417.23 144.13 419.65 143.93 422.1 143.6C424.61 143.26 427.18 142.9 429.7 142.4C432.24 141.9 434.75 140.98 437.3 140.6C439.82 140.22 442.38 140.1 444.9 140.1C447.41 140.1 449.91 140.22 452.4 140.6C454.94 140.98 457.45 142.07 460 142.4C462.52 142.73 465.07 142.76 467.6 142.6C470.14 142.43 472.68 141.94 475.2 141.4C477.75 140.85 480.28 140.06 482.8 139.3C485.34 138.53 487.98 137.54 490.4 136.8C492.59 136.13 494.64 134.7 496.7 135C498.98 135.34 501.1 137.79 503.4 139.3C505.86 140.92 508.36 143.34 511 144.4C513.41 145.37 516.01 145.82 518.5 145.7C521.04 145.58 523.58 144.36 526.1 143.6C528.64 142.83 531.13 141.51 533.7 141.1C536.2 140.7 538.79 140.77 541.3 141.1C543.85 141.43 546.4 142.23 548.9 143.1C551.47 143.99 553.94 145.54 556.5 146.4C558.97 147.23 561.48 147.82 564 148.2C566.51 148.58 569.08 148.91 571.6 148.7C574.15 148.49 576.84 146.86 579.2 146.9C581.27 146.94 582.78 148.09 585 148.5C587.86 149.03 591.49 149.51 595 149.5C598.91 149.49 603.78 148.08 607.4 148.2C610.25 148.29 611.47 149.15 615 149.5C622.95 150.3 644.59 151.04 654 150.7C659.36 150.51 662.96 150.18 666.6 149.4C669.49 148.78 671.7 147.93 674.2 146.9C676.77 145.84 679.23 144.16 681.8 143.1C684.3 142.07 686.96 141.15 689.4 140.6C691.57 140.11 693.51 140.2 695.7 139.8C698.13 139.36 700.71 138.84 703.3 138C706.16 137.07 709.34 135.79 712.1 134.3C714.8 132.84 717.27 130.75 719.7 129.2C721.88 127.81 723.85 126.46 726 125.4C728.08 124.37 730.37 123.45 732.4 122.9C734.14 122.43 735.73 121.92 737.4 122.1C739.19 122.29 741 123.5 742.8 124.2" stroke="#d8701e"/>
<path d="M485.5 15C486.27 17.5 486.78 20.1 487.8 22.5C488.82 24.9 490.25 27.33 491.6 29.4C492.8 31.25 494.24 32.35 495.4 34.4C496.92 37.1 498.24 40.34 499.4 44.5C501.13 50.74 502.11 60.47 503.4 68.6C504.71 76.9 505.86 85.88 507.2 93.8C508.41 100.92 509.36 107.94 511 114C512.4 119.15 513.65 124.72 516 128C517.73 130.42 520.07 132.55 522.3 133C524.33 133.41 526.66 132.18 528.7 131.2C530.9 130.14 532.83 126.96 535 126.7C537.03 126.45 539.29 128.02 541.3 129.2C543.5 130.49 545.55 132.45 547.6 134.3C549.75 136.24 551.74 138.67 553.9 140.6C555.97 142.45 558.03 144.76 560.3 145.7C562.3 146.52 564.5 146.4 566.6 146.4C568.7 146.4 571.01 145.76 572.9 145.7C574.44 145.65 576.02 145.39 577.1 145.9C578.03 146.34 578.38 147.62 579.2 148.2C580.01 148.78 580.8 149.08 582 149.4C583.96 149.92 586.05 150.09 590 150.3C601.14 150.9 640.02 150.03 654 150C660.81 149.98 664.68 150.57 669.2 150C672.94 149.53 675.73 148.1 679.3 147.4C683.25 146.63 687.69 146.28 691.9 145.7C696.13 145.12 700.38 144.53 704.6 143.9C708.81 143.27 713 142.58 717.2 141.9C721.4 141.22 726.12 140.35 729.8 139.8C732.65 139.38 735.08 138.84 737.4 138.8C739.35 138.76 741 139.13 742.8 139.3" stroke="#6010f4"/>
<path d="M414.8 72.3C415.97 75.7 416.93 79.05 418.3 82.5C419.77 86.2 421.38 91.01 423.4 93.8C424.89 95.87 426.61 97.32 428.4 98.4C430 99.36 431.91 99.2 433.5 100.2C435.31 101.34 436.95 103.18 438.5 105.2C440.36 107.62 442.01 110.74 443.6 114C445.45 117.79 447.2 122.57 448.7 126.7C450.1 130.55 451.03 134.64 452.4 138C453.57 140.86 454.36 143.9 456.2 145.7C457.87 147.33 460.03 148.05 462.6 148.7C466.03 149.56 469.07 149.2 475.2 149.4C491.69 149.95 554.08 153.57 566.6 150.4C570.12 149.51 571.08 148.21 572.9 146.9C574.52 145.74 575.7 144.59 577.1 143.1C578.77 141.32 580.42 138.9 582.1 136.8C583.79 134.7 585.76 132.89 587.2 130.5C588.78 127.88 590 125.03 591 121.6C592.26 117.29 592.72 111.91 593.5 106.5C594.4 100.26 595.19 93.24 596 86.3C596.86 78.93 597.67 71.3 598.5 63.5C599.37 55.29 600.32 45.63 601.1 38.2C601.72 32.34 602.02 27.86 602.8 22.5C603.63 16.81 604.16 9.88 606 5C607.49 1.04 610 -5 612 -5C614 -5 616.5 1.05 618 5C619.86 9.89 620.22 17.39 621.3 22.5C622.15 26.51 622.92 29.82 623.8 33.2C624.6 36.29 625.09 39.77 626.3 42C627.19 43.65 628.46 45.78 629.6 45.8C630.76 45.83 632.02 43.45 633.2 42C634.56 40.32 635.63 37.47 637.2 36.2C638.48 35.16 639.98 34.58 641.5 34.4C643.1 34.21 645.04 34.29 646.6 35.2C648.63 36.38 650.18 39.14 652 42C654.62 46.11 657.3 54.46 660 58C661.65 60.17 663.34 61.32 665 62.5C666.4 63.49 667.9 63.83 669.2 64.8C670.58 65.83 671.61 67.87 673 68.6C674.18 69.22 675.6 69.58 676.8 69.3C678.11 68.99 679.12 67.78 680.5 66.5C682.65 64.5 685.13 59.29 688 58C690.41 56.91 693.72 56.97 696 58C698.43 59.1 700.27 63.72 702 64.8C702.95 65.39 703.74 65.74 704.6 65.5C705.75 65.18 706.71 62.3 708 62C709.22 61.72 710.92 62.45 712.1 63.5C713.74 64.96 714.57 68.29 715.9 71.1C717.51 74.5 719.22 78.99 721 82.5C722.6 85.66 723.96 89.53 726 91.3C727.5 92.6 729.4 93.3 731.1 93.3C732.8 93.3 734.75 90.89 736.2 91.3C737.76 91.75 738.91 94.54 740 96.4C741.13 98.33 741.87 100.6 742.8 102.7" stroke="#1c10f4"/>
<path d="M414.8 125.4C415.97 127.1 416.98 128.74 418.3 130.5C419.81 132.52 421.37 135.42 423.4 136.8C425.23 138.05 427.58 138.3 429.7 138.8C431.78 139.29 433.93 139.22 436 139.8C438.14 140.4 440.11 141.47 442.3 142.4C444.72 143.42 447.49 144.61 449.9 145.7C452.11 146.7 453.86 147.96 456.2 148.7C458.86 149.54 461.1 149.82 465.1 150.2C473.18 150.96 487.35 150.87 502 151C523.59 151.19 569.55 151.79 582.1 150.7C585.99 150.36 587.56 150.49 589.7 149.4C591.76 148.35 593.31 146.65 594.8 144.4C596.86 141.3 598.12 136.01 599.8 131.8C601.49 127.57 602.7 122.43 604.9 119.1C606.67 116.41 608.94 113.27 611.2 112.8C613.17 112.39 615.49 114.12 617.5 115.3C619.7 116.59 621.69 119.37 623.8 120.4C625.49 121.23 627.17 121.87 628.9 121.6C630.95 121.28 633.06 119.32 635.2 117.8C637.68 116.04 640.16 113.22 642.8 111.5C645.25 109.91 648.31 107.82 650.4 107.7C651.8 107.62 652.75 108.33 654 109C655.61 109.87 657.41 111.19 659.1 112.8C661.21 114.8 663.18 118.23 665.4 120.4C667.4 122.36 669.47 124.36 671.7 125.4C673.7 126.33 676.01 127.18 678 126.7C680.24 126.16 682.16 123.21 684.3 121.6C686.4 120.02 688.46 117.67 690.7 117.1C692.71 116.58 695.07 117.21 697 117.8C698.82 118.35 700.25 120.46 702 120.4C704 120.34 706.29 117.72 708.3 116.6C710.07 115.62 711.74 113.86 713.4 114C715.15 114.15 716.91 116.24 718.5 117.8C720.3 119.56 721.47 123.45 723.5 124.2C725.31 124.86 727.83 123.45 729.8 122.9C731.61 122.4 733.2 121.1 734.9 121.1C736.6 121.1 738.65 121.97 740 122.9C741.21 123.73 741.87 125.1 742.8 126.2" stroke="#ffff14"/>
</g>
<rect x="416.8" y="20.5" width="38.2" height="3.1" fill="#fff" fill-opacity="0.6"/>
<rect x="653.4" y="32.1" width="85.2" height="33.4" fill="#000"/>
<rect x="648.2" y="26.9" width="85.2" height="33.4" fill="#fff" stroke="#8a8a8a" stroke-width="1"/>
<text class="s" x="691" y="46.4" font-size="16.7" text-anchor="middle">PbI/MoS<tspan font-size="10.35" dy="6.2">2</tspan></text>
<rect x="414.8" y="198.4" width="328" height="128.8" fill="none" stroke="#000" stroke-width="1.5"/>
<line x1="414.8" y1="295" x2="419.3" y2="295" stroke="#000" stroke-width="1.5"/>
<line x1="414.8" y1="262.8" x2="422.3" y2="262.8" stroke="#000" stroke-width="1.5"/>
<line x1="414.8" y1="230.6" x2="419.3" y2="230.6" stroke="#000" stroke-width="1.5"/>
<line x1="455.8" y1="327.2" x2="455.8" y2="323.4" stroke="#000" stroke-width="1.5"/>
<line x1="496.8" y1="327.2" x2="496.8" y2="320" stroke="#000" stroke-width="1.5"/>
<line x1="537.8" y1="327.2" x2="537.8" y2="323.4" stroke="#000" stroke-width="1.5"/>
<line x1="578.8" y1="327.2" x2="578.8" y2="320" stroke="#000" stroke-width="1.5"/>
<line x1="619.8" y1="327.2" x2="619.8" y2="323.4" stroke="#000" stroke-width="1.5"/>
<line x1="660.8" y1="327.2" x2="660.8" y2="320" stroke="#000" stroke-width="1.5"/>
<line x1="701.8" y1="327.2" x2="701.8" y2="323.4" stroke="#000" stroke-width="1.5"/>
<text class="s" x="412.5" y="331.6" font-size="15" text-anchor="end">0</text>
<text class="s" x="412.5" y="267.2" font-size="15" text-anchor="end">5</text>
<text class="s" x="412.5" y="202.8" font-size="15" text-anchor="end">10</text>
<text class="s" x="414.2" y="342" font-size="15" text-anchor="middle">-2</text>
<text class="s" x="496.2" y="342" font-size="15" text-anchor="middle">-1</text>
<text class="s" x="578.8" y="342" font-size="15" text-anchor="middle">0</text>
<text class="s" x="660.8" y="342" font-size="15" text-anchor="middle">1</text>
<text class="s" x="742.8" y="342" font-size="15" text-anchor="middle">2</text>
<g clip-path="url(#cE)" fill="none" stroke-width="1.85" stroke-linejoin="round" stroke-linecap="round">
<path d="M414.8 326L742.8 326.3" stroke="#d0101a"/>
<path d="M414.8 321.7C417.23 321 419.63 320.23 422.1 319.6C424.6 318.96 427.16 318.4 429.7 317.9C432.23 317.4 434.76 316.73 437.3 316.6C439.83 316.47 442.39 316.77 444.9 317.1C447.42 317.43 449.78 318.19 452.4 318.6C455.23 319.04 458.45 319.66 461.3 319.6C463.94 319.54 466.38 318.9 468.9 318.4C471.44 317.9 473.87 317.21 476.5 316.6C479.32 315.94 482.48 315.26 485.3 314.6C487.93 313.99 490.75 313.39 492.9 312.8C494.51 312.36 495.67 311.37 497.1 311.5C498.72 311.65 500.47 313.08 502.1 314.1C503.84 315.19 505.43 316.97 507.2 317.9C508.81 318.75 510.43 319.54 512.2 319.6C514.17 319.66 516.4 318.53 518.5 317.9C520.63 317.26 522.75 316.32 524.9 315.8C526.99 315.3 529.11 314.67 531.2 314.8C533.31 314.93 535.42 315.89 537.5 316.6C539.62 317.32 541.88 318.03 543.8 319.1C545.66 320.14 547.04 321.86 548.9 322.9C550.82 323.97 552.97 325.15 555.2 325.4C557.58 325.66 560.38 324.54 562.8 324.2C565 323.89 567 323.4 569.1 323.4C571.2 323.4 573.28 323.87 575.4 324.2C577.58 324.54 579.25 325.11 582 325.4C586.51 325.88 593.24 325.91 600 326C608.73 326.12 621.77 326.13 630 325.8C635.77 325.57 640.66 325.36 644.7 324.7C647.61 324.22 649.5 323.29 652.1 322.8C654.91 322.27 658.04 322.1 661 321.7C663.94 321.3 667.37 320.41 669.8 320.4C671.52 320.39 672.66 320.61 674.2 321C676.03 321.46 678.22 323.03 680 323.2C681.44 323.34 682.62 323.03 684 322.5C685.73 321.83 687.38 320.05 689.4 319.1C691.66 318.04 694.47 317.43 697 316.6C699.53 315.77 702.11 315.13 704.6 314.1C707.15 313.04 709.64 311.74 712.1 310.3C714.67 308.79 717.09 306.57 719.7 305.2C722.17 303.91 724.75 303.12 727.3 302.2C729.82 301.29 732.36 300.65 734.9 299.7C737.53 298.72 740.17 297.5 742.8 296.4" stroke="#d8701e"/>
<path d="M483.5 191C484.1 193.5 484.37 196.06 485.3 198.5C486.27 201.06 487.79 203.96 489.3 206C490.55 207.68 492.01 208.84 493.4 210.1C494.71 211.29 496.28 211.95 497.4 213.4C498.73 215.11 499.64 217.6 500.5 220C501.45 222.68 502.08 225.42 502.7 228.8C503.53 233.28 503.78 238.87 504.6 244.6C505.59 251.49 506.99 260.51 508.4 267.3C509.57 272.9 510.39 278.43 512.2 282.5C513.58 285.61 515.26 288.18 517.3 290.1C519.13 291.82 521.5 292.55 523.6 293.8C525.7 295.05 527.85 296.16 529.9 297.6C532.05 299.11 534.3 300.8 536.2 302.7C538.1 304.6 539.66 306.76 541.3 309C543.04 311.37 544.56 314.23 546.3 316.6C547.94 318.84 549.47 321.67 551.4 322.9C552.95 323.9 554.71 324.16 556.5 324.2C558.48 324.25 560.82 323.34 562.8 322.9C564.57 322.51 566.12 321.7 567.8 321.7C569.49 321.7 571.23 322.37 572.9 322.9C574.6 323.44 576.29 324.47 577.9 324.9C579.31 325.28 580.14 325.31 582 325.5C585.87 325.89 593.24 326.29 600 326.5C608.73 326.77 621.22 326.81 630 326.7C636.88 326.61 643.04 326.26 648.4 326.1C652.56 325.98 655.88 326.08 659.5 325.8C663 325.53 666.37 324.63 669.8 324.5C673.2 324.37 676.69 325.28 680 325C683.22 324.72 686.2 323.45 689.4 322.9C692.69 322.34 696.13 322.12 699.5 321.7C702.87 321.28 706.24 320.95 709.6 320.4C712.98 319.85 716.33 319.03 719.7 318.4C723.06 317.77 726.67 317.15 729.8 316.6C732.51 316.13 735.08 315.61 737.4 315.3C739.35 315.04 741 314.97 742.8 314.8" stroke="#6010f4"/>
<path d="M414.8 244.6C415.97 245 417.04 245.28 418.3 245.8C419.86 246.45 421.69 248.19 423.4 248.3C425.05 248.41 426.7 246.88 428.4 246.6C430.07 246.32 431.94 245.91 433.5 246.6C435.38 247.43 436.96 249.86 438.5 252.1C440.4 254.88 441.97 258.69 443.6 262.3C445.38 266.25 447.08 270.47 448.7 274.9C450.46 279.7 451.94 285.3 453.7 290.1C455.32 294.53 457.03 298.76 458.8 302.7C460.41 306.28 462.02 309.73 463.8 312.8C465.41 315.57 466.86 318.46 468.9 320.4C470.73 322.14 472.91 323.37 475.2 324.2C477.54 325.05 479.68 325.14 482.8 325.4C487.73 325.81 493.64 325.5 502 325.6C517.73 325.79 560.04 326.89 570 326.5C572.81 326.39 574.01 326.82 575.4 326C576.76 325.19 577.35 323.45 578.3 321.7C579.6 319.32 580.98 316.34 582.1 312.8C583.64 307.96 584.7 301.38 585.9 295.1C587.25 288.02 588.49 280.36 589.7 272.4C591.04 263.61 592.2 253.64 593.5 244.6C594.74 235.96 596.07 226.98 597.3 219.3C598.33 212.87 599.27 205.3 600.3 201.6C600.79 199.83 601.25 199.56 601.8 197.8C602.97 194.08 604.06 184.64 606 180C607.39 176.67 609.33 172 611 172C612.67 172 614.63 176.66 616 180C617.91 184.64 618.85 192.22 620 197.8C621.01 202.71 621.75 206.63 622.6 211.7C623.62 217.8 624.39 225.97 625.6 231.9C626.57 236.65 627.3 241.96 628.9 244.6C629.83 246.14 630.95 247.38 632.2 247.6C633.48 247.82 635.14 246.52 636.5 245.8C637.84 245.09 638.88 243.62 640.3 243.3C641.8 242.96 643.9 244.63 645.3 244C646.94 243.26 647.96 240.31 649.1 238.2C650.34 235.91 651.13 232.84 652.4 230.7C653.48 228.88 654.58 226.49 656 226C657.18 225.59 658.77 226.23 660 227C661.53 227.96 662.64 230.23 664.1 231.9C665.69 233.72 667.31 236.77 669.2 237.5C670.74 238.09 672.5 236.62 674.2 237C676.25 237.46 678.35 239.74 680.5 240.8C682.58 241.83 684.92 243.39 686.9 243.3C688.69 243.22 690.23 241.64 691.9 240.8C693.59 239.95 695.31 238.19 697 238.2C698.68 238.21 700.48 239.45 702 240.8C703.93 242.52 705.15 245.75 707.1 248.3C709.31 251.2 712.23 254.53 714.7 257.2C716.85 259.53 718.9 263.16 721 263.5C722.67 263.77 724.39 262.06 726 261C727.76 259.84 729.46 256.91 731.1 256.7C732.4 256.53 733.77 257.47 734.9 258.5C736.4 259.86 737.44 262.59 738.7 264.8C740.07 267.2 741.43 269.87 742.8 272.4" stroke="#1c10f4"/>
<path d="M414.8 309.8C417.23 310.13 419.75 310.73 422.1 310.8C424.27 310.86 426.42 310.63 428.4 310.3C430.2 310 431.82 308.92 433.5 309C435.19 309.08 436.89 309.91 438.5 310.8C440.27 311.78 441.79 313.47 443.6 314.8C445.57 316.24 447.62 317.96 449.9 319.1C452.24 320.27 454.95 320.98 457.5 321.7C460.01 322.41 462.38 322.83 465.1 323.4C468.22 324.06 471.82 324.85 475.2 325.4C478.56 325.95 480.24 326.37 485.3 326.7C500.31 327.67 561.26 327.48 575 326.8C579.11 326.6 580.41 326.81 583 326C585.78 325.13 588.54 322.85 591.1 321.5C593.35 320.32 595.31 319.04 597.5 318.3C599.59 317.6 601.92 317.45 603.9 317.1C605.61 316.8 607.04 316.64 608.7 316.3C610.53 315.92 612.66 314.94 614.4 314.9C615.85 314.87 617.03 315.26 618.4 315.7C619.96 316.2 621.57 317.33 623.2 317.9C624.77 318.45 626.4 319.1 628 319.1C629.6 319.1 631.23 318.38 632.8 317.9C634.36 317.42 635.59 316.68 637.4 316.2C639.84 315.55 643.61 315.54 646.2 314.7C648.42 313.98 650.11 312.62 652.1 311.8C654.04 311 656.17 309.86 658 309.8C659.57 309.75 660.84 310.5 662.4 311C664.24 311.59 666.31 313.08 668.3 313.2C670.25 313.32 672.24 312.2 674.2 311.8C676.14 311.4 677.83 310.81 680 310.8C682.76 310.78 686.45 312.45 689.4 312.3C692.08 312.17 694.57 310.71 697 310.3C699.18 309.93 701.22 309.61 703.3 309.8C705.42 310 707.38 311.09 709.6 311.5C712 311.95 714.68 312.41 717.2 312.3C719.74 312.19 722.4 311.38 724.8 310.8C727.01 310.27 729.04 308.79 731.1 309C733.24 309.22 735.37 311.3 737.4 312.3C739.26 313.22 741 313.97 742.8 314.8" stroke="#ffff14"/>
<path d="M414.8 312.8C417.23 313.23 419.65 314.17 422.1 314.1C424.62 314.03 427.28 312.39 429.7 312.3C431.89 312.22 433.93 312.73 436 313.3C438.13 313.88 440.21 314.85 442.3 315.8C444.45 316.78 446.45 318.13 448.7 319.1C451.07 320.11 453.57 321 456.2 321.7C459.01 322.45 462.15 322.78 465.1 323.4C468.05 324.02 470.95 324.85 473.9 325.4C476.85 325.95 478.25 326.36 482.8 326.7C497.35 327.78 563.65 329.15 575 327C577.69 326.49 578.28 326.05 579.8 325.1C581.5 324.03 582.92 322.39 584.6 320.7C586.65 318.64 588.88 315.69 591.1 313.5C593.18 311.45 595.2 308.95 597.5 307.9C599.51 306.98 601.92 307.22 603.9 307C605.61 306.81 607.04 306.84 608.7 306.6C610.53 306.33 612.69 305.25 614.4 305.4C615.87 305.53 617.1 306.13 618.4 307C620.05 308.1 621.59 310.63 623.2 311.9C624.53 312.95 625.81 313.92 627.2 314.3C628.49 314.66 629.74 314.51 631.2 314.3C633.06 314.04 635.09 312.96 637.4 312.5C640.23 311.93 644.34 312.11 647 311.4C649.01 310.86 650.33 309.94 652.1 309.2C653.99 308.41 656.14 307.1 658 306.8C659.54 306.55 660.95 306.78 662.4 307.1C663.92 307.43 665.38 308.49 666.9 308.8C668.35 309.1 669.84 309.07 671.3 309C672.77 308.93 674.13 308.27 675.7 308.4C677.58 308.56 679.64 309.79 681.8 310.3C684.18 310.85 686.86 311.42 689.4 311.5C691.93 311.58 694.47 310.8 697 310.8C699.53 310.8 702.08 311.17 704.6 311.5C707.11 311.83 709.58 312.5 712.1 312.8C714.62 313.1 717.29 313.32 719.7 313.3C721.9 313.29 723.91 313.2 726 312.8C728.15 312.38 730.41 310.72 732.4 310.8C734.18 310.87 735.7 312.14 737.4 312.8C739.16 313.48 741 314.13 742.8 314.8" stroke="#66f01c"/>
</g>
<rect x="631.9" y="207.6" width="104" height="25.8" fill="#000"/>
<rect x="626.7" y="202.4" width="104" height="25.8" fill="#fff" stroke="#8a8a8a" stroke-width="1"/>
<text class="s" x="678.7" y="220.9" font-size="16.7" text-anchor="middle">PbI/X-MXY</text>
<rect x="414.8" y="372.6" width="328" height="129.4" fill="none" stroke="#000" stroke-width="1.5"/>
<line x1="414.8" y1="469.65" x2="419.3" y2="469.65" stroke="#000" stroke-width="1.5"/>
<line x1="414.8" y1="437.3" x2="422.3" y2="437.3" stroke="#000" stroke-width="1.5"/>
<line x1="414.8" y1="404.95" x2="419.3" y2="404.95" stroke="#000" stroke-width="1.5"/>
<line x1="455.8" y1="502" x2="455.8" y2="498.2" stroke="#000" stroke-width="1.5"/>
<line x1="496.8" y1="502" x2="496.8" y2="494.8" stroke="#000" stroke-width="1.5"/>
<line x1="537.8" y1="502" x2="537.8" y2="498.2" stroke="#000" stroke-width="1.5"/>
<line x1="578.8" y1="502" x2="578.8" y2="494.8" stroke="#000" stroke-width="1.5"/>
<line x1="619.8" y1="502" x2="619.8" y2="498.2" stroke="#000" stroke-width="1.5"/>
<line x1="660.8" y1="502" x2="660.8" y2="494.8" stroke="#000" stroke-width="1.5"/>
<line x1="701.8" y1="502" x2="701.8" y2="498.2" stroke="#000" stroke-width="1.5"/>
<text class="s" x="412.5" y="506.4" font-size="15" text-anchor="end">0</text>
<text class="s" x="412.5" y="441.7" font-size="15" text-anchor="end">10</text>
<text class="s" x="412.5" y="377" font-size="15" text-anchor="end">20</text>
<text class="s" x="414.2" y="516.8" font-size="15" text-anchor="middle">-2</text>
<text class="s" x="496.2" y="516.8" font-size="15" text-anchor="middle">-1</text>
<text class="s" x="578.8" y="516.8" font-size="15" text-anchor="middle">0</text>
<text class="s" x="660.8" y="516.8" font-size="15" text-anchor="middle">1</text>
<text class="s" x="742.8" y="516.8" font-size="15" text-anchor="middle">2</text>
<g clip-path="url(#cF)" fill="none" stroke-width="1.85" stroke-linejoin="round" stroke-linecap="round">
<path d="M414.8 500.7L742.8 500.8" stroke="#d0101a"/>
<path d="M414.8 497.4C417.23 497.23 419.64 496.98 422.1 496.9C424.61 496.81 427.17 496.82 429.7 496.9C432.23 496.98 434.77 497.18 437.3 497.4C439.84 497.62 442.37 498.07 444.9 498.2C447.4 498.33 449.9 498.41 452.4 498.2C454.93 497.98 457.59 497.34 460 496.9C462.2 496.5 464.33 496.23 466.3 495.7C468.11 495.21 469.68 494.03 471.4 493.9C473.08 493.78 474.83 494.41 476.5 494.9C478.2 495.4 479.71 496.44 481.5 496.9C483.45 497.4 485.6 497.49 487.8 497.7C490.21 497.93 492.95 498.12 495.4 498.2C497.68 498.27 499.93 498.3 502 498.2C503.84 498.11 505.3 497.67 507.2 497.7C509.5 497.74 512.27 498.62 514.8 498.7C517.3 498.78 519.79 498.2 522.3 498.2C524.82 498.2 527.37 498.62 529.9 498.7C532.43 498.78 534.98 498.49 537.5 498.7C540.04 498.92 542.57 499.58 545.1 500C547.63 500.42 549.19 500.93 552.7 501.2C560.42 501.78 582.4 501.84 590 501C593.4 500.62 594.17 499.7 597.3 499.4C602.75 498.88 611.67 500.11 620 500C630.19 499.87 646.01 498.73 654 498.2C658.36 497.91 660.73 497.7 664.1 497.4C667.47 497.1 670.84 496.78 674.2 496.4C677.57 496.02 680.94 495.57 684.3 495.1C687.67 494.63 691.32 494.43 694.4 493.6C697.16 492.86 699.44 491.4 702 490.6C704.51 489.81 707.05 489.22 709.6 488.8C712.12 488.39 714.67 488.43 717.2 488.1C719.74 487.77 722.28 487.35 724.8 486.8C727.35 486.25 729.97 485.21 732.4 484.8C734.58 484.43 736.83 484.26 738.7 484.3C740.21 484.33 741.43 484.63 742.8 484.8" stroke="#d8701e"/>
<path d="M414.8 399.6C415.97 401.7 417.02 404.02 418.3 405.9C419.47 407.61 420.83 410.5 422.1 410.5C423.37 410.5 424.79 407.91 425.9 405.9C427.48 403.05 428.26 397.75 429.7 394.5C430.86 391.88 432.1 388.52 433.5 387.7C434.29 387.24 435.19 387.27 436 387.7C437.33 388.41 438.71 390.99 439.8 393.3C441.26 396.4 441.91 402.45 443.2 405C443.92 406.42 444.57 407.23 445.5 408C446.41 408.75 447.48 409.45 448.7 409.6C450.15 409.78 452.15 408.2 453.7 408.5C455.28 408.81 456.88 410.31 458.1 411.5C459.26 412.63 460 414 460.9 415.4C461.87 416.92 462.86 418.64 463.7 420.3C464.53 421.94 465.02 423.43 465.9 425.3C467.05 427.75 468.63 430.77 470.1 433.7C471.71 436.91 473.75 440.17 475.2 443.8C476.76 447.73 477.61 452.09 479 456.5C480.52 461.33 482.08 467.31 484 471.6C485.54 475.05 487.06 478.59 489.1 480.5C490.61 481.92 492.48 482.36 494.2 483C495.84 483.61 497.77 483.82 499.2 484.3C500.31 484.67 501.03 484.94 502.1 485.5C503.59 486.28 505.33 488.08 507.2 488.8C509.12 489.54 511.55 489.25 513.5 489.8C515.3 490.31 516.82 491.22 518.5 491.9C520.19 492.59 521.78 493.48 523.6 493.9C525.56 494.35 527.81 494.1 529.9 494.4C532.01 494.7 534.1 495.2 536.2 495.7C538.33 496.2 540.4 496.73 542.6 497.4C545.01 498.14 547.56 499.37 550.1 500C552.6 500.62 554.98 501.12 557.7 501.2C560.82 501.29 564.67 500.4 567.8 500.2C570.51 500.03 572.96 500.14 575.4 500C577.68 499.87 579.26 499.44 582 499.4C586.52 499.33 592.39 500.25 600 500.5C613.17 500.93 642.28 501 654 500.7C659.67 500.55 662.39 500.3 666.6 500C670.83 499.7 675.08 499.33 679.3 498.9C683.51 498.47 687.69 497.85 691.9 497.4C696.12 496.95 700.37 496.58 704.6 496.2C708.81 495.82 713 495.4 717.2 495.1C721.4 494.8 725.57 494.6 729.8 494.4C734.1 494.2 738.47 494.07 742.8 493.9" stroke="#6010f4"/>
<path d="M414.8 470.4C415.97 468.3 417.09 466.2 418.3 464.1C419.53 461.97 420.63 459.23 422.1 457.7C423.25 456.5 424.49 455.37 425.9 455.2C427.43 455.01 429.31 456.37 431 457C432.68 457.63 434.29 458.67 436 459C437.66 459.32 439.45 458.61 441.1 459C442.82 459.41 444.51 460.36 446.1 461.5C447.9 462.8 449.6 464.64 451.2 466.6C452.99 468.8 454.52 471.67 456.2 474.2C457.89 476.74 459.61 479.27 461.3 481.8C462.98 484.31 464.51 487.12 466.3 489.3C467.9 491.25 469.48 493.04 471.4 494.4C473.29 495.73 475.59 496.46 477.7 497.4C479.79 498.33 481.67 499.44 484 500C486.67 500.64 488.43 500.52 492.9 500.7C506.4 501.23 563.65 502.06 574.5 500.7C577.25 500.35 578.06 500.4 579.6 499.4C581.51 498.16 583.01 495.44 584.6 493.1C586.39 490.47 587.95 487.1 589.7 484.3C591.36 481.65 593.11 479.24 594.8 476.7C596.48 474.17 598.12 471.63 599.8 469.1C601.49 466.56 603.29 464.27 604.9 461.5C606.68 458.43 608.47 455.02 609.9 451.4C611.44 447.49 612.46 443.11 613.7 438.8C615 434.29 616.05 428.33 617.5 424.9C618.43 422.7 619.33 420.03 620.5 419.8C621.48 419.61 622.85 420.89 623.8 422.3C625.58 424.94 626.19 431.46 627.6 436.3C629.13 441.56 630.7 448.25 632.7 452.7C634.2 456.04 635.72 459.18 637.7 461C639.22 462.39 640.97 463.3 642.8 463.5C644.75 463.72 647.15 462.57 649.1 462C650.85 461.49 652.37 460.99 654 460.3C655.71 459.57 657.37 458.81 659.1 457.7C661.15 456.38 663.35 452.91 665.4 452.7C667.1 452.52 668.7 454.48 670.4 455.2C672.07 455.91 673.81 457.01 675.5 457C677.18 456.99 678.84 455.9 680.5 455.2C682.21 454.47 683.85 452.57 685.6 452.7C687.63 452.85 689.76 455.72 691.9 457C693.96 458.24 696.21 460.29 698.2 460.3C699.99 460.31 701.61 458.55 703.3 457.7C704.97 456.86 706.62 455.21 708.3 455.2C709.99 455.19 711.63 456.74 713.4 457.7C715.41 458.8 717.57 460.34 719.7 461.5C721.78 462.63 723.98 463.81 726 464.6C727.76 465.29 729.41 466.17 731.1 466.1C732.81 466.02 734.36 464.54 736.2 464.1C738.23 463.62 740.6 463.7 742.8 463.5" stroke="#1c10f4"/>
<path d="M414.8 493.1C416.4 492.7 417.97 492.1 419.6 491.9C421.24 491.7 422.76 491.84 424.6 491.9C426.87 491.97 429.67 492.2 432.2 492.4C434.73 492.6 437.27 492.77 439.8 493.1C442.34 493.43 444.87 493.97 447.4 494.4C449.93 494.83 452.47 495.28 455 495.7C457.53 496.12 460.08 496.48 462.6 496.9C465.11 497.32 467.59 497.78 470.1 498.2C472.62 498.62 474.86 499.05 477.7 499.4C481.3 499.84 483.96 500.22 490 500.5C506.71 501.26 570.71 502.31 584.6 500.7C588.59 500.24 589.66 499.45 592.2 498.9C594.73 498.35 597.26 497.73 599.8 497.4C602.32 497.07 604.69 496.99 607.4 496.9C610.53 496.8 614.71 497.04 617.5 496.9C619.49 496.8 620.61 496.4 622.6 496.4C625.4 496.4 629.33 497.32 632.7 497.4C636.06 497.48 639.43 497.07 642.8 496.9C646.17 496.73 649.62 496.61 652.9 496.4C656.01 496.2 658.75 496.06 662 495.7C665.78 495.28 670.32 494.34 674.2 493.9C677.72 493.5 681.17 493.22 684.3 493.1C687.01 492.99 689.38 492.89 691.9 493.1C694.44 493.32 696.78 494.24 699.5 494.4C702.62 494.59 706.24 494.2 709.6 493.9C712.97 493.6 716.33 492.73 719.7 492.6C723.06 492.47 726.68 493.27 729.8 493.1C732.52 492.95 735.08 492.19 737.4 491.9C739.35 491.66 741 491.57 742.8 491.4" stroke="#ffff14"/>
<path d="M414.8 494.9C417.23 494.57 419.64 494.12 422.1 493.9C424.6 493.68 427.17 493.52 429.7 493.6C432.24 493.68 434.77 494.15 437.3 494.4C439.83 494.65 442.38 494.8 444.9 495.1C447.41 495.4 449.89 495.82 452.4 496.2C454.93 496.58 457.47 496.95 460 497.4C462.54 497.85 464.88 498.48 467.6 498.9C470.72 499.38 474.16 499.71 477.7 500C481.59 500.32 483.99 500.53 490 500.7C506.43 501.17 568.47 502.88 582.1 500.7C586.12 500.06 587.17 499.03 589.7 498.2C592.23 497.37 594.75 496.42 597.3 495.7C599.82 494.99 602.36 494.33 604.9 493.9C607.39 493.47 609.9 493.51 612.4 493.1C614.94 492.68 617.72 491.43 620 491.4C621.87 491.38 623.24 491.97 625.1 492.4C627.39 492.93 630.15 493.85 632.7 494.4C635.22 494.95 637.78 495.7 640.3 495.7C642.81 495.7 645.29 494.75 647.8 494.4C650.32 494.05 652.99 493.82 655.4 493.6C657.57 493.4 659.43 493.29 661.6 493.1C664.01 492.89 666.67 492.4 669.2 492.4C671.73 492.4 674.28 493.18 676.8 493.1C679.31 493.02 681.8 491.78 684.3 491.9C686.84 492.03 689.35 493.48 691.9 493.9C694.41 494.31 696.97 494.45 699.5 494.4C702.04 494.35 704.56 493.82 707.1 493.6C709.63 493.38 712.17 493.1 714.7 493.1C717.23 493.1 719.78 493.6 722.3 493.6C724.81 493.6 727.3 493.38 729.8 493.1C732.33 492.82 735.08 491.93 737.4 491.9C739.35 491.87 741 492.37 742.8 492.6" stroke="#66f01c"/>
</g>
<rect x="417" y="373.4" width="29" height="31.6" fill="#fff" fill-opacity="0.6"/>
<rect x="631.9" y="381.6" width="104" height="25.8" fill="#000"/>
<rect x="626.7" y="376.4" width="104" height="25.8" fill="#fff" stroke="#8a8a8a" stroke-width="1"/>
<text class="s" x="678.7" y="394.9" font-size="16.7" text-anchor="middle">PbI/Y-MXY</text>
<line x1="145.5" y1="33.3" x2="181.2" y2="33.3" stroke="#d0101a" stroke-width="2.1"/>
<text class="s" x="185" y="38.6" font-size="15.5">Cs</text>
<line x1="145.5" y1="52.7" x2="181.2" y2="52.7" stroke="#d8701e" stroke-width="2.1"/>
<text class="s" x="185" y="58" font-size="15.5">Pb</text>
<line x1="145.5" y1="72" x2="181.2" y2="72" stroke="#6010f4" stroke-width="2.1"/>
<text class="s" x="185" y="77.3" font-size="15.5">I</text>
<line x1="145.5" y1="91.1" x2="181.2" y2="91.1" stroke="#1c10f4" stroke-width="2.1"/>
<text class="s" x="185" y="96.4" font-size="15.5">M</text>
<line x1="145.5" y1="110.4" x2="181.2" y2="110.4" stroke="#ffff14" stroke-width="2.1"/>
<text class="s" x="185" y="115.7" font-size="15.5">X</text>
<line x1="145.5" y1="129.8" x2="181.2" y2="129.8" stroke="#66f01c" stroke-width="2.1"/>
<text class="s" x="185" y="135.1" font-size="15.5">Y</text>
<text class="s" x="540.1" y="359.5" font-size="16.5" font-style="italic">E</text>
<text class="s" x="553.9" y="359.5" font-size="16.5" font-style="italic">-</text>
<text class="s" x="564.8" y="359.5" font-size="16.5" font-style="italic">E</text>
<text class="s" x="575.2" y="366.3" font-size="10.5" font-style="italic">F</text>
<text class="s" x="586.6" y="359.5" font-size="16.5" font-style="italic">/</text>
<text class="s" x="595.9" y="359.5" font-size="16.5" font-style="italic">eV</text>
<text class="s" x="541.3" y="533.5" font-size="16.5" font-style="italic">E</text>
<text class="s" x="555.1" y="533.5" font-size="16.5" font-style="italic">-</text>
<text class="s" x="566" y="533.5" font-size="16.5" font-style="italic">E</text>
<text class="s" x="576.4" y="540.3" font-size="10.5" font-style="italic">F</text>
<text class="s" x="587.8" y="533.5" font-size="16.5" font-style="italic">/</text>
<text class="s" x="597.1" y="533.5" font-size="16.5" font-style="italic">eV</text>
</svg></body></html>
